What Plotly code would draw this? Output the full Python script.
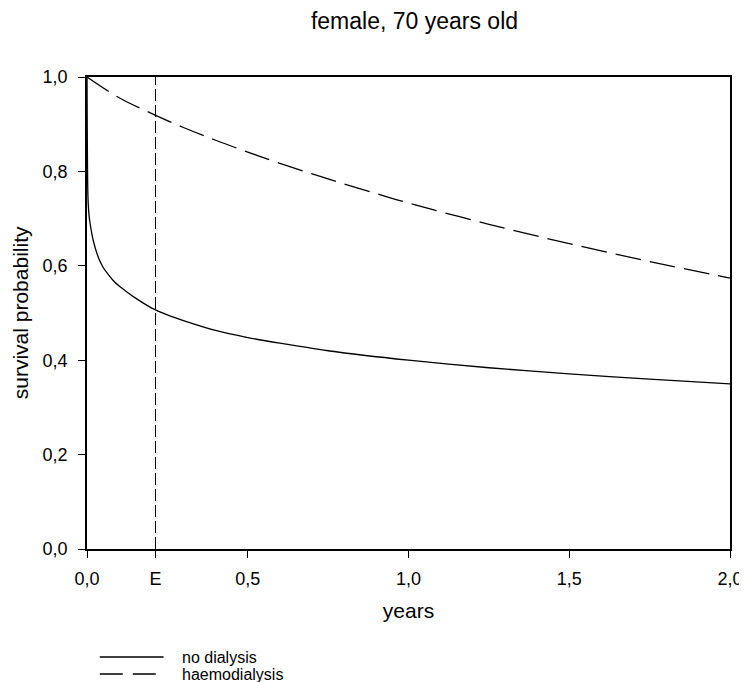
import plotly.graph_objects as go

# ---- data ----
t_no_dialysis = [0, 0.0005, 0.001, 0.002, 0.003, 0.005, 0.0075, 0.01, 0.015, 0.02,
                 0.03, 0.04, 0.05, 0.06, 0.08, 0.1, 0.125, 0.15, 0.2, 0.25, 0.3,
                 0.4, 0.5, 0.6, 0.75, 1.0, 1.25, 1.5, 1.75, 2.0]
s_no_dialysis = [1.0, 0.92, 0.86, 0.78, 0.745, 0.718, 0.70, 0.688, 0.668, 0.652,
                 0.628, 0.610, 0.597, 0.587, 0.570, 0.557, 0.544, 0.532, 0.511, 0.496, 0.484,
                 0.463, 0.448, 0.436, 0.420, 0.400, 0.384, 0.371, 0.360, 0.350]

t_haemo = [0, 0.1, 0.2, 0.3, 0.4, 0.5, 0.6, 0.75, 0.9, 1.0, 1.25, 1.5, 1.75, 2.0]
s_haemo = [1.0, 0.956, 0.923, 0.893, 0.866, 0.841, 0.817, 0.784, 0.753, 0.733,
           0.688, 0.647, 0.609, 0.574]

e_time = 0.213
e_label = "E"

x_ticks = [0, 0.5, 1.0, 1.5, 2.0]
x_tick_labels = ["0,0", "0,5", "1,0", "1,5", "2,0"]
y_ticks = [0, 0.2, 0.4, 0.6, 0.8, 1.0]
y_tick_labels = ["0,0", "0,2", "0,4", "0,6", "0,8", "1,0"]

legend_names = ["no dialysis", "haemodialysis"]
legend_dashes = ["solid", "23px,10px"]

FONT = "Liberation Sans, Arial, sans-serif"

# layout geometry (pixels)
W, H = 747, 682
ML, MR, MT, MB = 79, 13, 69, 141
PW, PH = W - ML - MR, H - MT - MB

def px_to_paper_x(px):
    return (px - ML) / PW

def px_to_paper_y(py):
    return (H - MB - py) / PH

fig = go.Figure()
fig.add_trace(go.Scatter(x=t_no_dialysis, y=s_no_dialysis, mode="lines", line_shape="spline",
                         name=legend_names[0], showlegend=False,
                         line=dict(color="black", width=1.3, smoothing=0.6)))
fig.add_trace(go.Scatter(x=t_haemo, y=s_haemo, mode="lines", line_shape="spline",
                         name=legend_names[1], showlegend=False,
                         line=dict(color="black", width=1.3, dash="26px,9px")))

# vertical E line
fig.add_trace(go.Scatter(x=[e_time, e_time], y=[0, 1], mode="lines", showlegend=False,
                         line=dict(color="black", width=1, dash="12px,4px"),
                         hoverinfo="skip"))

# legend drawn below the plot (line samples + labels)
legend_rows_px = [649, 666]
for name, dash, row in zip(legend_names, legend_dashes, legend_rows_px):
    yy = px_to_paper_y(row)
    fig.add_shape(type="line", xref="paper", yref="paper",
                  x0=px_to_paper_x(92), x1=px_to_paper_x(157), y0=yy, y1=yy,
                  line=dict(color="black", width=1.3, dash=dash))
    fig.add_annotation(xref="paper", yref="paper", x=px_to_paper_x(175), y=yy,
                       xanchor="left", yanchor="middle", text=name, showarrow=False,
                       borderpad=0,
                       font=dict(size=16, family=FONT, color="black"))

# y-axis title
fig.add_annotation(xref="paper", yref="paper", x=px_to_paper_x(11), y=0.5,
                   xanchor="center", yanchor="middle", textangle=-90,
                   text="survival probability", showarrow=False,
                   font=dict(size=21, family=FONT, color="black"))

fig.update_layout(
    width=W, height=H,
    margin=dict(l=ML, r=MR, t=MT, b=MB),
    paper_bgcolor="white", plot_bgcolor="white",
    font=dict(family=FONT, color="black", size=18),
    title=dict(text="female, 70 years old", x=(ML + PW / 2) / W, xanchor="center",
               y=1 - 13 / H, yanchor="middle", font=dict(size=23, family=FONT)),
    showlegend=False,
)

fig.update_xaxes(
    range=[0, 2], tickvals=x_ticks + [e_time], ticktext=x_tick_labels + [e_label],
    ticks="outside", ticklen=7, tickwidth=1, tickcolor="black",
    showline=True, linecolor="black", linewidth=1.5, mirror=True,
    showgrid=False, zeroline=False, ticklabelstandoff=6,
    tickfont=dict(size=18, family=FONT),
    title=dict(text="years", font=dict(size=21, family=FONT), standoff=15),
)
fig.update_yaxes(
    range=[0, 1], tickvals=y_ticks, ticktext=y_tick_labels,
    ticks="outside", ticklen=7, tickwidth=1, tickcolor="black",
    showline=True, linecolor="black", linewidth=1.5, mirror=True,
    showgrid=False, zeroline=False, ticklabelstandoff=7,
    tickfont=dict(size=18, family=FONT),
)

fig.write_html("out.html")
